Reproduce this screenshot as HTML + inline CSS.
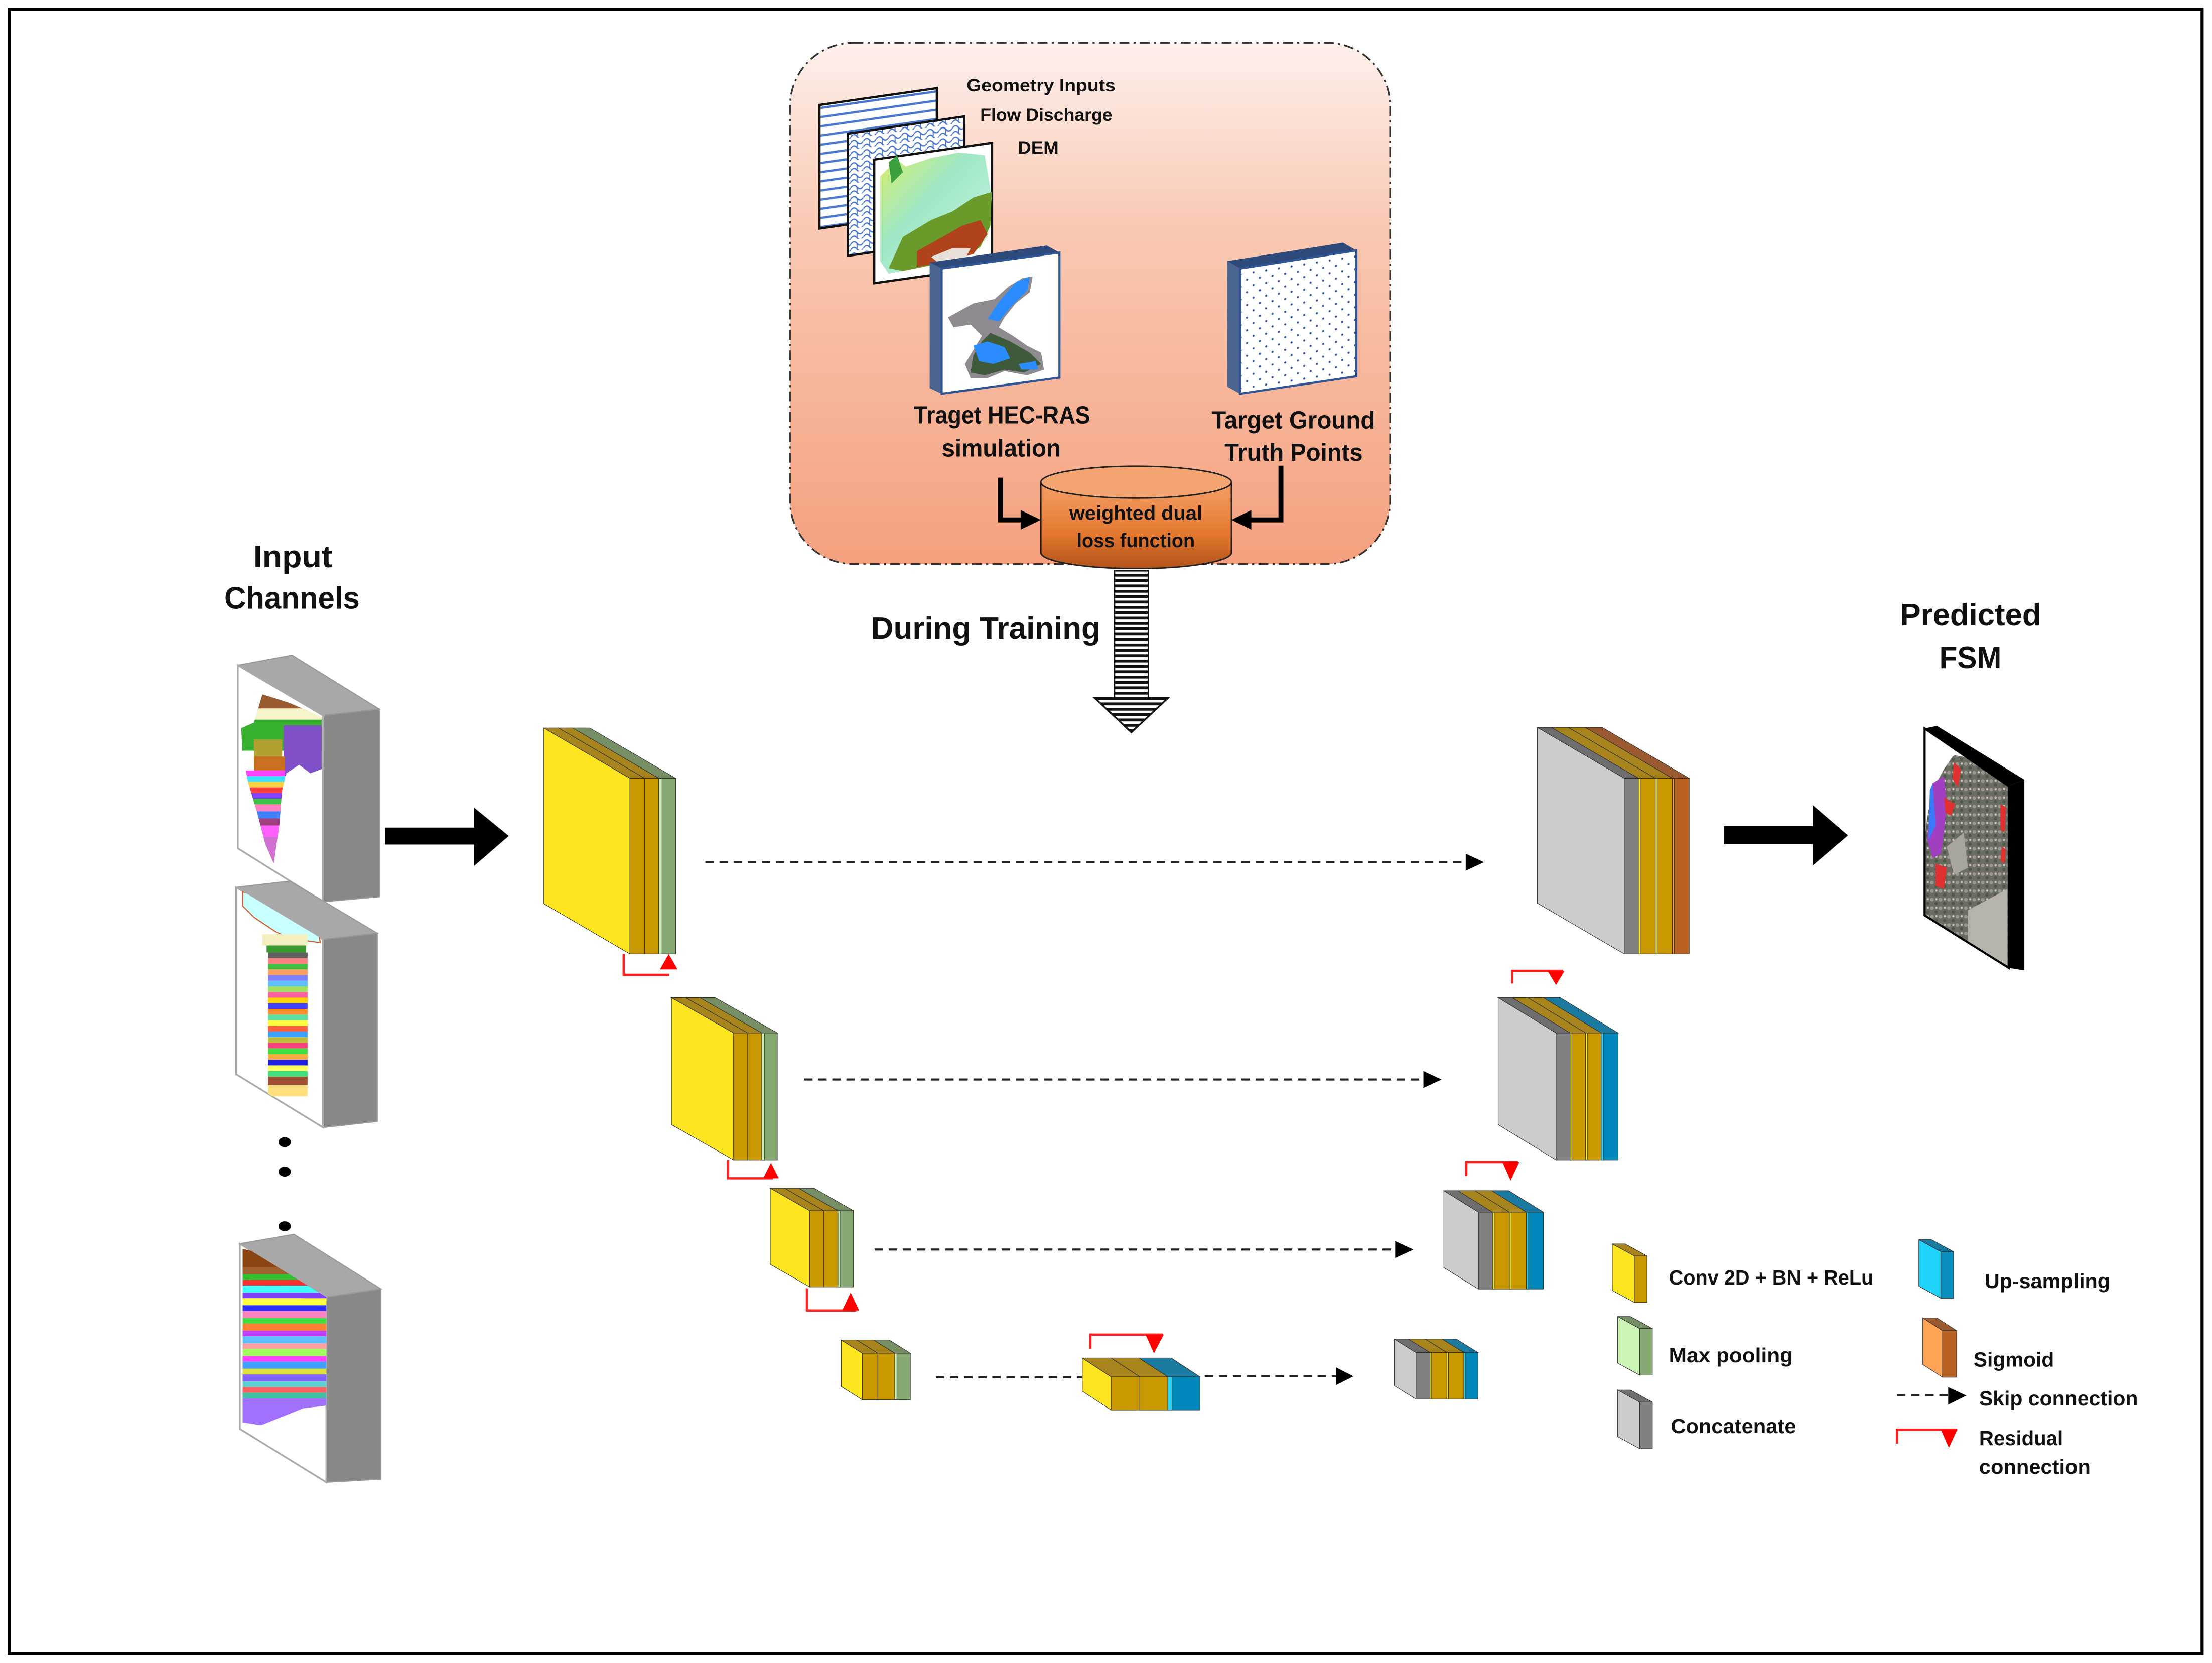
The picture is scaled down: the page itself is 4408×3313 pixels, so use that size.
<!DOCTYPE html>
<html><head><meta charset="utf-8">
<style>
html,body{margin:0;padding:0;background:#fff;}
svg{display:block;}
text{font-family:"Liberation Sans",sans-serif;font-weight:bold;fill:#111;}
</style></head>
<body>
<svg xmlns="http://www.w3.org/2000/svg" width="4408" height="3313" viewBox="0 0 1568 1178.5" preserveAspectRatio="none">
<defs>
  <linearGradient id="bg" x1="0" y1="0" x2="0" y2="1">
    <stop offset="0" stop-color="#fdf0ec"/>
    <stop offset="0.35" stop-color="#f9c9b3"/>
    <stop offset="1" stop-color="#f4a07e"/>
  </linearGradient>
  <linearGradient id="cyl" x1="0" y1="0" x2="0" y2="1">
    <stop offset="0" stop-color="#f5a06a"/>
    <stop offset="0.6" stop-color="#e3782f"/>
    <stop offset="1" stop-color="#b3521a"/>
  </linearGradient>
  <linearGradient id="dem" x1="0" y1="0" x2="1" y2="1">
    <stop offset="0" stop-color="#d9ef6a"/>
    <stop offset="0.4" stop-color="#9fe7c4"/>
    <stop offset="0.7" stop-color="#b6efd8"/>
    <stop offset="1" stop-color="#e2f2b0"/>
  </linearGradient>
  <pattern id="hl" width="10" height="6.5" patternUnits="userSpaceOnUse" patternTransform="skewY(-8.1)">
    <rect width="10" height="6.5" fill="#fff"/>
    <rect y="2.5" width="10" height="1.6" fill="#4a78d0"/>
  </pattern>
  <pattern id="wave" width="9" height="8" patternUnits="userSpaceOnUse" patternTransform="skewY(-8.1)">
    <rect width="9" height="8" fill="#fff"/>
    <path d="M0,3 Q2.2,0 4.5,3 T9,3 M0,7 Q2.2,4 4.5,7 T9,7" fill="none" stroke="#4a78d0" stroke-width="0.9"/>
    <path d="M4.5,3 V7" stroke="#4a78d0" stroke-width="0.7"/>
  </pattern>
  <pattern id="dots" width="9" height="9" patternUnits="userSpaceOnUse" patternTransform="skewY(-8.8)">
    <rect width="9" height="9" fill="#fff"/>
    <circle cx="2" cy="2" r="0.75" fill="#3356a8"/>
    <circle cx="6.5" cy="6.5" r="0.75" fill="#3356a8"/>
  </pattern>
  <pattern id="stripes" width="30" height="3.8" patternUnits="userSpaceOnUse">
    <rect width="30" height="3.8" fill="#fff"/>
    <rect width="30" height="2" fill="#111"/>
  </pattern>
  <pattern id="fsmtex" width="6" height="6" patternUnits="userSpaceOnUse">
    <rect width="6" height="6" fill="#6b6d62"/>
    <circle cx="1.5" cy="1.5" r="1.3" fill="#9a9690"/>
    <circle cx="4.5" cy="4.2" r="1.2" fill="#4a5a45"/>
    <circle cx="4.6" cy="1.2" r="0.8" fill="#c9c5c0"/>
  </pattern>
  <clipPath id="c1"><polygon points="168.6,471.4 229,507 229,639 168.6,601.2"/></clipPath>
  <clipPath id="c2"><polygon points="167.4,628.8 229,665.7 229,799 167.4,761.3"/></clipPath>
  <clipPath id="c3"><polygon points="170,881.4 231.3,919.2 231.3,1050.4 170,1012.6"/></clipPath>
  <clipPath id="c1b"><path d="M171,516 L180,512 L186,492 L205,498 L228,508 L228,545 L220,548 L212,542 L203,548 L200,560 L198,585 L194,612 L188,598 L182,575 L176,555 L172,535 Z"/></clipPath>
  <clipPath id="cfsm"><polygon points="1364.3,516.2 1423.9,557 1423.9,685.9 1364.3,648.7"/></clipPath>
  <clipPath id="chead"><polygon points="776,494.6 828,494.6 802,519"/></clipPath>
</defs>

<rect width="1568" height="1178.5" fill="#fff"/>
<rect x="6.5" y="6.5" width="1554.5" height="1165.5" fill="none" stroke="#000" stroke-width="2.2"/>

<!-- Top training box -->
<rect x="560" y="30.3" width="425.4" height="369.4" rx="45" ry="45" fill="url(#bg)" stroke="#333" stroke-width="1.2" stroke-dasharray="7,3,1.5,3"/>

<polygon points="580.9,74.4 664.1,62.5 664.1,150 580.9,162" fill="url(#hl)" stroke="#111" stroke-width="1.6"/>
<polygon points="600.9,94.7 683.6,82.5 683.6,169.4 600.9,181.3" fill="url(#wave)" stroke="#111" stroke-width="1.6"/>
<polygon points="619.7,113.1 703.2,101.2 703.2,188.8 619.7,200.7" fill="#fff" stroke="#111" stroke-width="1.6"/>
<path d="M624,125 L636,113 L642,118 L660,112 L680,108 L698,110 L703,140 L700,168 L690,180 L670,184 L650,190 L630,194 L624,185 Z" fill="url(#dem)"/>
<path d="M640,168 L660,156 L675,150 L690,140 L703,136 L702,160 L695,175 L684,182 L660,188 L640,192 L630,190 Z" fill="#6a9a2a"/>
<path d="M650,178 L668,168 L682,160 L695,156 L700,166 L690,180 L670,186 L650,189 Z" fill="#b0421c"/>
<path d="M660,182 L675,176 L688,176 L684,184 L666,187 Z" fill="#e8e0d8"/>
<path d="M630,115 L636,110 L640,122 L632,130 Z" fill="#3aa040"/>

<polygon points="659,186 742,174 751,179 667.5,190.3" fill="#2e4a7a"/>
<polygon points="659,186 667.5,190.3 667.5,279 659,275" fill="#4a6590"/>
<polygon points="667.5,190.3 751,179 751,267.6 667.5,279" fill="#fff" stroke="#2f5597" stroke-width="1.5"/>
<path d="M672,225 L690,215 L705,212 L715,203 L725,197 L732,196 L730,207 L720,215 L712,225 L708,232 L718,238 L728,245 L738,250 L740,262 L728,266 L712,263 L700,268 L688,268 L684,258 L690,248 L696,238 L688,230 L676,232 Z" fill="#8e8a8f"/>
<path d="M702,236 L716,242 L730,250 L738,258 L726,264 L712,262 L698,266 L688,264 L690,252 L696,242 Z" fill="#3e5a3a"/>
<path d="M720,200 L730,196 L728,206 L716,218 L708,228 L700,226 L708,214 Z" fill="#2a8cff"/>
<path d="M690,245 L700,242 L712,246 L716,254 L704,258 L694,256 Z M722,258 L734,256 L736,262 L724,262 Z" fill="#2a8cff"/>

<polygon points="870,185 952,172 961.5,177.5 879,190.3" fill="#2e4a7a"/>
<polygon points="870,185 879,190.3 879,279 870,274" fill="#4a6590"/>
<polygon points="879,190.3 961.5,177.5 961.5,266.7 879,279" fill="url(#dots)" stroke="#2f5597" stroke-width="1.5"/>

<text x="685.2" y="64.8" font-size="12.5" textLength="105.5" lengthAdjust="spacingAndGlyphs">Geometry Inputs</text>
<text x="694.8" y="85.7" font-size="12.5" textLength="93.7" lengthAdjust="spacingAndGlyphs">Flow Discharge</text>
<text x="721.5" y="108.9" font-size="12.5" textLength="29" lengthAdjust="spacingAndGlyphs">DEM</text>
<text x="647.8" y="300" font-size="17.5" textLength="125" lengthAdjust="spacingAndGlyphs">Traget HEC-RAS</text>
<text x="667.5" y="323.5" font-size="17.5" textLength="84.5" lengthAdjust="spacingAndGlyphs">simulation</text>
<text x="858.8" y="303.7" font-size="17.5" textLength="116" lengthAdjust="spacingAndGlyphs">Target Ground</text>
<text x="868" y="326.6" font-size="17.5" textLength="98" lengthAdjust="spacingAndGlyphs">Truth Points</text>

<path d="M737.8,341.7 V391.6 A67.55,11.3 0 0 0 872.9,391.6 V341.7 Z" fill="url(#cyl)" stroke="#222" stroke-width="1"/>
<ellipse cx="805.35" cy="341.7" rx="67.55" ry="11.3" fill="#f4a470" stroke="#222" stroke-width="1"/>
<text x="758" y="368.4" font-size="14" textLength="94.3" lengthAdjust="spacingAndGlyphs">weighted dual</text>
<text x="763.2" y="387.8" font-size="14" textLength="83.8" lengthAdjust="spacingAndGlyphs">loss function</text>

<path d="M709.2,338.5 V368.4 H725" fill="none" stroke="#000" stroke-width="3.5"/>
<polygon points="723.5,361.5 737.8,368.4 723.5,375.3" fill="#000"/>
<path d="M908,330 V368.4 H886" fill="none" stroke="#000" stroke-width="3.5"/>
<polygon points="887,361.5 872.9,368.4 887,375.3" fill="#000"/>

<rect x="790" y="404.5" width="24" height="90" fill="url(#stripes)" stroke="#111" stroke-width="1"/>
<polygon points="776,494.6 828,494.6 802,519" fill="#fff"/>
<rect x="770" y="494.6" width="64" height="26" fill="url(#stripes)" clip-path="url(#chead)"/>
<polygon points="776,494.6 828,494.6 802,519" fill="none" stroke="#111" stroke-width="1.2"/>
<text x="617.5" y="452.8" font-size="22" textLength="162.5" lengthAdjust="spacingAndGlyphs">During Training</text>

<text x="179.6" y="402" font-size="22" textLength="56" lengthAdjust="spacingAndGlyphs">Input</text>
<text x="159" y="431.4" font-size="22" textLength="96" lengthAdjust="spacingAndGlyphs">Channels</text>

<g stroke="#999" stroke-width="0.8">
  <polygon points="168.6,471.4 207,464.3 268.9,502.5 229,507" fill="#a8a8a8"/>
  <polygon points="229,507 268.9,502.5 268.9,635.5 229,639" fill="#888"/>
  <polygon points="168.6,471.4 229,507 229,639 168.6,601.2" fill="#fff" stroke="#aaa" stroke-width="1.2"/>
  <polygon points="167.4,628.8 205.5,624.4 267.4,661.3 229,665.7" fill="#a8a8a8"/>
  <polygon points="229,665.7 267.4,661.3 267.4,794.7 229,799" fill="#888"/>
  <polygon points="167.4,628.8 229,665.7 229,799 167.4,761.3" fill="#fff" stroke="#aaa" stroke-width="1.2"/>
  <polygon points="170,881.4 208.4,874.7 270,913.4 231.3,919.2" fill="#a8a8a8"/>
  <polygon points="231.3,919.2 270,913.4 270,1048.2 231.3,1050.4" fill="#888"/>
  <polygon points="170,881.4 231.3,919.2 231.3,1050.4 170,1012.6" fill="#fff" stroke="#aaa" stroke-width="1.2"/>
</g>
<!-- map 1 -->
<g clip-path="url(#c1b)">
  <rect x="170" y="490" width="60" height="14" fill="#9a5a30"/>
  <rect x="170" y="502" width="60" height="8" fill="#f6f3c8"/>
  <rect x="170" y="510" width="60" height="22" fill="#38b030"/>
  <rect x="201" y="514" width="28" height="36" fill="#8050c8"/>
  <rect x="180" y="524" width="20" height="12" fill="#b0a030"/>
  <rect x="180" y="536" width="22" height="10" fill="#c87020"/>
  <rect x="170" y="546" width="32" height="4" fill="#ff40ff"/>
  <rect x="170" y="550" width="32" height="4" fill="#40e0ff"/>
  <rect x="170" y="554" width="32" height="4" fill="#ffd040"/>
  <rect x="170" y="558" width="32" height="4" fill="#ff4040"/>
  <rect x="170" y="562" width="32" height="4" fill="#8040ff"/>
  <rect x="170" y="566" width="32" height="4" fill="#40c040"/>
  <rect x="170" y="570" width="32" height="5" fill="#ff80c0"/>
  <rect x="170" y="575" width="32" height="5" fill="#4080ff"/>
  <rect x="170" y="580" width="32" height="5" fill="#a04080"/>
  <rect x="170" y="585" width="32" height="8" fill="#ff60ff"/>
  <rect x="170" y="593" width="32" height="20" fill="#d070d0"/>
</g>
<!-- map 2 -->
<g clip-path="url(#c2)">
  <path d="M172,632 L185,636 L205,645 L218,655 L226,662 L227,668 L205,665 L195,660 L180,650 L172,642 Z" fill="#c8ffff" stroke="#d06030" stroke-width="0.8"/>
  <rect x="186" y="662" width="32" height="8" fill="#f4f0c0"/>
  <rect x="189" y="670" width="28" height="5" fill="#3a9a30"/>
  <rect x="190" y="675" width="28" height="4" fill="#606060"/>
  <rect x="190" y="679" width="28" height="4" fill="#ff8080"/>
  <rect x="190" y="683" width="28" height="4" fill="#40c040"/>
  <rect x="190" y="687" width="28" height="4" fill="#ffa060"/>
  <rect x="190" y="691" width="28" height="4" fill="#8080ff"/>
  <rect x="190" y="695" width="28" height="4" fill="#60c0ff"/>
  <rect x="190" y="699" width="28" height="4" fill="#a0e060"/>
  <rect x="190" y="703" width="28" height="4" fill="#ff60a0"/>
  <rect x="190" y="707" width="28" height="4" fill="#ffd000"/>
  <rect x="190" y="711" width="28" height="4" fill="#4040ff"/>
  <rect x="190" y="715" width="28" height="4" fill="#ff9030"/>
  <rect x="190" y="719" width="28" height="4" fill="#60e0a0"/>
  <rect x="190" y="723" width="28" height="4" fill="#ffff40"/>
  <rect x="190" y="727" width="28" height="4" fill="#ff6040"/>
  <rect x="190" y="731" width="28" height="4" fill="#40a0ff"/>
  <rect x="190" y="735" width="28" height="4" fill="#c0c040"/>
  <rect x="190" y="739" width="28" height="4" fill="#ff4080"/>
  <rect x="190" y="743" width="28" height="4" fill="#40e040"/>
  <rect x="190" y="747" width="28" height="4" fill="#ffb040"/>
  <rect x="190" y="751" width="28" height="4" fill="#2020e0"/>
  <rect x="190" y="755" width="28" height="4" fill="#ffff60"/>
  <rect x="190" y="759" width="28" height="4" fill="#40e080"/>
  <rect x="190" y="763" width="28" height="6" fill="#a05030"/>
  <rect x="190" y="769" width="28" height="8" fill="#ffe080"/>
</g>
<!-- map 3 -->
<g clip-path="url(#c3)">
  <path d="M172,885 L185,888 L200,895 L215,905 L230,917 L230,925 L172,905 Z" fill="#8b4513"/>
  <rect x="172" y="898" width="60" height="5" fill="#a06030"/>
  <rect x="172" y="903" width="60" height="4" fill="#30c030"/>
  <rect x="172" y="907" width="60" height="4" fill="#ff3030"/>
  <rect x="172" y="911" width="60" height="5" fill="#40ffff"/>
  <rect x="172" y="916" width="60" height="4" fill="#8040ff"/>
  <rect x="172" y="920" width="60" height="5" fill="#ffff40"/>
  <rect x="172" y="925" width="60" height="4" fill="#3030ff"/>
  <rect x="172" y="929" width="60" height="5" fill="#ff80c0"/>
  <rect x="172" y="934" width="60" height="4" fill="#40e040"/>
  <rect x="172" y="938" width="60" height="5" fill="#ff8030"/>
  <rect x="172" y="943" width="60" height="4" fill="#c040ff"/>
  <rect x="172" y="947" width="60" height="5" fill="#60c0ff"/>
  <rect x="172" y="952" width="60" height="4" fill="#ffa0a0"/>
  <rect x="172" y="956" width="60" height="5" fill="#a0ff60"/>
  <rect x="172" y="961" width="60" height="4" fill="#ff40ff"/>
  <rect x="172" y="965" width="60" height="5" fill="#40a0ff"/>
  <rect x="172" y="970" width="60" height="4" fill="#e0e040"/>
  <rect x="172" y="974" width="60" height="5" fill="#8060ff"/>
  <rect x="172" y="979" width="60" height="4" fill="#60d0d0"/>
  <rect x="172" y="983" width="60" height="4" fill="#ff6060"/>
  <rect x="172" y="987" width="60" height="4" fill="#40c0a0"/>
  <path d="M172,991 L232,991 L232,996 L215,998 L200,1004 L185,1010 L172,1008 Z" fill="#a070ff"/>
</g>
<ellipse cx="201.8" cy="809.4" rx="4.4" ry="3.5" fill="#000"/>
<ellipse cx="201.8" cy="830.3" rx="4.4" ry="3.5" fill="#000"/>
<ellipse cx="201.8" cy="869" rx="4.4" ry="3.5" fill="#000"/>

<polygon points="273,586.5 336,586.5 336,572.3 360.6,592.4 336,613.7 336,598.5 273,598.5" fill="#000"/>
<polygon points="1221.9,585.5 1285,585.5 1285,570.6 1309.9,592 1285,613.3 1285,598.2 1221.9,598.2" fill="#000"/>

<text x="1346.9" y="443.2" font-size="22" textLength="100" lengthAdjust="spacingAndGlyphs">Predicted</text>
<text x="1374.7" y="473.5" font-size="22" textLength="44" lengthAdjust="spacingAndGlyphs">FSM</text>
<polygon points="1364.3,516.2 1373,514.4 1435,552.5 1423.9,557" fill="#000"/>
<polygon points="1423.9,557 1435,552.5 1435,687.7 1423.9,685.9" fill="#000"/>
<polygon points="1364.3,516.2 1423.9,557 1423.9,685.9 1364.3,648.7" fill="url(#fsmtex)"/>
<g clip-path="url(#cfsm)">
  <path d="M1364,516 L1395,537 L1385,535 L1378,545 L1370,560 L1366,580 L1364,600 Z" fill="#fff"/>
  <path d="M1370,555 L1378,550 L1380,570 L1378,590 L1376,605 L1370,608 L1366,595 L1368,575 Z" fill="#a040c0"/>
  <path d="M1368,560 L1370,555 L1372,585 L1367,596 Z" fill="#3a7aff"/>
  <path d="M1378,565 L1386,570 L1383,578 L1379,576 Z M1372,612 L1380,615 L1378,630 L1372,628 Z M1385,540 L1390,545 L1388,558 L1384,552 Z M1418,570 L1422,572 L1421,590 L1418,588 Z M1419,600 L1422,602 L1421,612 L1418,610 Z" fill="#e03030"/>
  <path d="M1395,645 L1423,630 L1423,686 L1395,668 Z" fill="#b8b2ac"/>
  <path d="M1380,600 L1392,590 L1395,615 L1385,620 Z" fill="#a8a49e"/>
</g>
<polygon points="1364.3,516.2 1423.9,557 1423.9,685.9 1364.3,648.7" fill="none" stroke="#000" stroke-width="1.5"/>

<g stroke="#333" stroke-width="0.4">
<g transform="translate(446.5,551.5)">
  <polygon points="0,0 -61,-35.6 -61,88.9 0,124.5" fill="#fde51f"/>
  <rect x="0" y="0" width="10.5" height="124.5" fill="#c99700"/>
  <polygon points="0,0 10.5,0 -50.5,-35.6 -61,-35.6" fill="#a8841c"/>
  <rect x="10.5" y="0" width="10" height="124.5" fill="#c99700"/>
  <polygon points="10.5,0 20.5,0 -40.5,-35.6 -50.5,-35.6" fill="#a8841c"/>
  <rect x="20.5" y="0" width="12" height="124.5" fill="#86a873"/>
  <rect x="20.5" y="0" width="2.3" height="124.5" fill="#ccf5b5"/>
  <polygon points="20.5,0 32.5,0 -28.5,-35.6 -40.5,-35.6" fill="#778f64"/>
</g>
<g transform="translate(520,732)">
  <polygon points="0,0 -44,-25 -44,65 0,90" fill="#fde51f"/>
  <rect x="0" y="0" width="10" height="90" fill="#c99700"/>
  <polygon points="0,0 10,0 -34,-25 -44,-25" fill="#a8841c"/>
  <rect x="10" y="0" width="10" height="90" fill="#c99700"/>
  <polygon points="10,0 20,0 -24,-25 -34,-25" fill="#a8841c"/>
  <rect x="20" y="0" width="11" height="90" fill="#86a873"/>
  <rect x="20" y="0" width="2" height="90" fill="#ccf5b5"/>
  <polygon points="20,0 31,0 -13,-25 -24,-25" fill="#778f64"/>
</g>
<g transform="translate(574,858)">
  <polygon points="0,0 -28,-16 -28,38 0,54" fill="#fde51f"/>
  <rect x="0" y="0" width="10" height="54" fill="#c99700"/>
  <polygon points="0,0 10,0 -18,-16 -28,-16" fill="#a8841c"/>
  <rect x="10" y="0" width="10" height="54" fill="#c99700"/>
  <polygon points="10,0 20,0 -8,-16 -18,-16" fill="#a8841c"/>
  <rect x="20" y="0" width="11" height="54" fill="#86a873"/>
  <rect x="20" y="0" width="1.8" height="54" fill="#ccf5b5"/>
  <polygon points="20,0 31,0 3,-16 -8,-16" fill="#778f64"/>
</g>
<g transform="translate(611.3,959)">
  <polygon points="0,0 -15,-9.4 -15,23.6 0,33" fill="#fde51f"/>
  <rect x="0" y="0" width="11" height="33" fill="#c99700"/>
  <polygon points="0,0 11,0 -4,-9.4 -15,-9.4" fill="#a8841c"/>
  <rect x="11" y="0" width="12" height="33" fill="#c99700"/>
  <polygon points="11,0 23,0 8,-9.4 -4,-9.4" fill="#a8841c"/>
  <rect x="23" y="0" width="11" height="33" fill="#86a873"/>
  <rect x="23" y="0" width="1.5" height="33" fill="#ccf5b5"/>
  <polygon points="23,0 34,0 19,-9.4 8,-9.4" fill="#778f64"/>
</g>
<g transform="translate(787.6,975.7)">
  <polygon points="0,0 -20.4,-13.3 -20.4,10.2 0,23.5" fill="#fde51f"/>
  <rect x="0" y="0" width="20.4" height="23.5" fill="#c99700"/>
  <polygon points="0,0 20.4,0 0,-13.3 -20.4,-13.3" fill="#a8841c"/>
  <rect x="20.4" y="0" width="19.8" height="23.5" fill="#c99700"/>
  <polygon points="20.4,0 40.2,0 19.8,-13.3 0,-13.3" fill="#a8841c"/>
  <rect x="40.2" y="0" width="22.8" height="23.5" fill="#0088bb"/>
  <rect x="40.2" y="0" width="3" height="23.5" fill="#22d4f8"/>
  <polygon points="40.2,0 63,0 42.6,-13.3 19.8,-13.3" fill="#1b7aa0"/>
</g>

<g transform="translate(1151.4,551.5)">
  <polygon points="0,0 -61.7,-36 -61.7,88.5 0,124.5" fill="#cccccc"/>
  <rect x="0" y="0" width="10" height="124.5" fill="#808080"/>
  <polygon points="0,0 10,0 -51.7,-36 -61.7,-36" fill="#6e6e6e"/>
  <rect x="10" y="0" width="12" height="124.5" fill="#c99700"/>
  <rect x="10" y="0" width="1.3" height="124.5" fill="#fff200"/>
  <polygon points="10,0 22,0 -39.7,-36 -51.7,-36" fill="#a8841c"/>
  <rect x="22" y="0" width="12" height="124.5" fill="#c99700"/>
  <rect x="22" y="0" width="1.3" height="124.5" fill="#fff200"/>
  <polygon points="22,0 34,0 -27.7,-36 -39.7,-36" fill="#a8841c"/>
  <rect x="34" y="0" width="12" height="124.5" fill="#b86224"/>
  <rect x="34" y="0" width="1.5" height="124.5" fill="#ffa355"/>
  <polygon points="34,0 46,0 -15.7,-36 -27.7,-36" fill="#9c5a30"/>
</g>
<g transform="translate(1103,732)">
  <polygon points="0,0 -41,-25 -41,65 0,90" fill="#cccccc"/>
  <rect x="0" y="0" width="10" height="90" fill="#808080"/>
  <polygon points="0,0 10,0 -31,-25 -41,-25" fill="#6e6e6e"/>
  <rect x="10" y="0" width="11" height="90" fill="#c99700"/>
  <rect x="10" y="0" width="1.2" height="90" fill="#fff200"/>
  <polygon points="10,0 21,0 -20,-25 -31,-25" fill="#a8841c"/>
  <rect x="21" y="0" width="11" height="90" fill="#c99700"/>
  <rect x="21" y="0" width="1.2" height="90" fill="#fff200"/>
  <polygon points="21,0 32,0 -9,-25 -20,-25" fill="#a8841c"/>
  <rect x="32" y="0" width="12" height="90" fill="#0088bb"/>
  <rect x="32" y="0" width="1.5" height="90" fill="#22d4f8"/>
  <polygon points="32,0 44,0 3,-25 -9,-25" fill="#1b7aa0"/>
</g>
<g transform="translate(1048,859)">
  <polygon points="0,0 -24.5,-15.2 -24.5,39.3 0,54.5" fill="#cccccc"/>
  <rect x="0" y="0" width="10" height="54.5" fill="#808080"/>
  <polygon points="0,0 10,0 -14.5,-15.2 -24.5,-15.2" fill="#6e6e6e"/>
  <rect x="10" y="0" width="12" height="54.5" fill="#c99700"/>
  <rect x="10" y="0" width="1.2" height="54.5" fill="#fff200"/>
  <polygon points="10,0 22,0 -2.5,-15.2 -14.5,-15.2" fill="#a8841c"/>
  <rect x="22" y="0" width="12" height="54.5" fill="#c99700"/>
  <rect x="22" y="0" width="1.2" height="54.5" fill="#fff200"/>
  <polygon points="22,0 34,0 9.5,-15.2 -2.5,-15.2" fill="#a8841c"/>
  <rect x="34" y="0" width="12" height="54.5" fill="#0088bb"/>
  <rect x="34" y="0" width="1.5" height="54.5" fill="#22d4f8"/>
  <polygon points="34,0 46,0 21.5,-15.2 9.5,-15.2" fill="#1b7aa0"/>
</g>
<g transform="translate(1003.7,958.5)">
  <polygon points="0,0 -15.3,-9.5 -15.3,23.5 0,33" fill="#cccccc"/>
  <rect x="0" y="0" width="10" height="33" fill="#808080"/>
  <polygon points="0,0 10,0 -5.3,-9.5 -15.3,-9.5" fill="#6e6e6e"/>
  <rect x="10" y="0" width="12" height="33" fill="#c99700"/>
  <rect x="10" y="0" width="1.1" height="33" fill="#fff200"/>
  <polygon points="10,0 22,0 6.7,-9.5 -5.3,-9.5" fill="#a8841c"/>
  <rect x="22" y="0" width="12" height="33" fill="#c99700"/>
  <rect x="22" y="0" width="1.1" height="33" fill="#fff200"/>
  <polygon points="22,0 34,0 18.7,-9.5 6.7,-9.5" fill="#a8841c"/>
  <rect x="34" y="0" width="10" height="33" fill="#0088bb"/>
  <rect x="34" y="0" width="1.3" height="33" fill="#22d4f8"/>
  <polygon points="34,0 44,0 28.7,-9.5 18.7,-9.5" fill="#1b7aa0"/>
</g>

<g transform="translate(1158.5,890)">
  <polygon points="0,0 -15.6,-8.5 -15.6,24.5 0,33" fill="#fde51f"/>
  <rect x="0" y="0" width="9" height="33" fill="#c99700"/>
  <polygon points="0,0 9,0 -6.6,-8.5 -15.6,-8.5" fill="#a8841c"/>
</g>
<g transform="translate(1375.8,887)">
  <polygon points="0,0 -15.6,-8.5 -15.6,24.5 0,33" fill="#1fd3fa"/>
  <rect x="0" y="0" width="9" height="33" fill="#0a8dbf"/>
  <polygon points="0,0 9,0 -6.6,-8.5 -15.6,-8.5" fill="#1b7ba0"/>
</g>
<g transform="translate(1162.3,941.5)">
  <polygon points="0,0 -15.6,-8.5 -15.6,24.5 0,33" fill="#ccf5b5"/>
  <rect x="0" y="0" width="9" height="33" fill="#86a873"/>
  <polygon points="0,0 9,0 -6.6,-8.5 -15.6,-8.5" fill="#778f64"/>
</g>
<g transform="translate(1377,943)">
  <polygon points="0,0 -14,-9 -14,24 0,33" fill="#ffa355"/>
  <rect x="0" y="0" width="10" height="33" fill="#b86224"/>
  <polygon points="0,0 10,0 -4,-9 -14,-9" fill="#9c5a30"/>
</g>
<g transform="translate(1162.3,993.6)">
  <polygon points="0,0 -15.6,-8.5 -15.6,24.5 0,33" fill="#cccccc"/>
  <rect x="0" y="0" width="9" height="33" fill="#808080"/>
  <polygon points="0,0 9,0 -6.6,-8.5 -15.6,-8.5" fill="#6e6e6e"/>
</g>
</g>

<g stroke="#222" stroke-width="1.5" stroke-dasharray="6,4" fill="none">
  <line x1="500" y1="611" x2="1040" y2="611"/>
  <line x1="570" y1="765" x2="1010" y2="765"/>
  <line x1="620" y1="885.5" x2="990" y2="885.5"/>
  <line x1="663.4" y1="976" x2="767" y2="976"/>
  <line x1="854" y1="975.3" x2="947" y2="975.3"/>
  <line x1="1344.7" y1="988.7" x2="1381" y2="988.7"/>
</g>
<g fill="#000">
  <polygon points="1039,605 1052,611 1039,617"/>
  <polygon points="1009,759 1022,765 1009,771"/>
  <polygon points="989,879.5 1002,885.5 989,891.5"/>
  <polygon points="947,969 959.4,975.3 947,981.6"/>
  <polygon points="1381,983 1393.9,989 1381,995.4"/>
</g>

<g stroke="#ff2020" stroke-width="1.6" fill="none">
  <path d="M442.1,676 V690.8 H474.4"/>
  <path d="M516,822 V835 H548"/>
  <path d="M572,913 V928.7 H607"/>
  <path d="M1072,697 V688 H1108"/>
  <path d="M1039.4,833.4 V823.5 H1076"/>
  <path d="M772.9,956 V945.8 H824.3"/>
  <path d="M1344.7,1023 V1013.2 H1387.4"/>
</g>
<g fill="#ff0000">
  <polygon points="467.8,687 480.3,687 474,676"/>
  <polygon points="541,835 552,835 546.5,824"/>
  <polygon points="597,928.7 609,928.7 603,916"/>
  <polygon points="1097,688 1109,688 1103,698"/>
  <polygon points="1065,823.5 1077,823.5 1070.8,836.6"/>
  <polygon points="812,945.8 825,945.8 818,959"/>
  <polygon points="1375.8,1013.2 1387.4,1013.2 1381.5,1026"/>
</g>

<text x="1183" y="910.3" font-size="14.5" textLength="145" lengthAdjust="spacingAndGlyphs">Conv 2D + BN + ReLu</text>
<text x="1406.8" y="912.7" font-size="14.5" textLength="89" lengthAdjust="spacingAndGlyphs">Up-sampling</text>
<text x="1183" y="965.4" font-size="14.5" textLength="88" lengthAdjust="spacingAndGlyphs">Max pooling</text>
<text x="1399" y="968.5" font-size="14.5" textLength="57" lengthAdjust="spacingAndGlyphs">Sigmoid</text>
<text x="1184.3" y="1015.6" font-size="14.5" textLength="89" lengthAdjust="spacingAndGlyphs">Concatenate</text>
<text x="1402.9" y="996" font-size="14.5" textLength="112.6" lengthAdjust="spacingAndGlyphs">Skip connection</text>
<text x="1402.9" y="1024.2" font-size="14.5" textLength="59.5" lengthAdjust="spacingAndGlyphs">Residual</text>
<text x="1402.9" y="1044.4" font-size="14.5" textLength="79" lengthAdjust="spacingAndGlyphs">connection</text>
</svg>
</body></html>
